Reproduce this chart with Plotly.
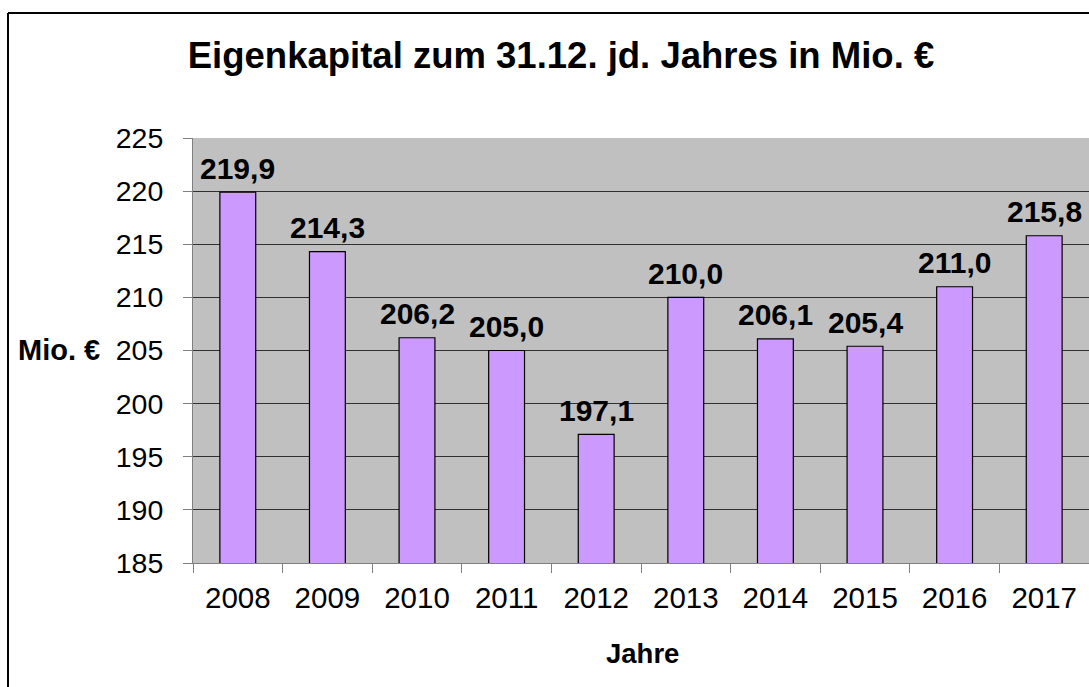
import plotly.graph_objects as go

years = ["2008", "2009", "2010", "2011", "2012", "2013", "2014", "2015", "2016", "2017"]
equity = [219.9, 214.3, 206.2, 205.0, 197.1, 210.0, 206.1, 205.4, 211.0, 215.8]
y_ticks = [185, 190, 195, 200, 205, 210, 215, 220, 225]

W, H = 1089, 687
L, R, T, B = 193, 0, 138, 124
pw, ph = W - L - R, H - T - B

FONT = "Liberation Sans, Arial, sans-serif"
labels = [f"{v:.1f}".replace(".", ",") for v in equity]

fig = go.Figure()
fig.add_trace(go.Bar(
    x=years, y=equity, width=0.4,
    marker=dict(color="#CC99FF", line=dict(color="black", width=1.2)),
    hoverinfo="skip",
))

# value labels above bars (category index position on the categorical x axis)
for i, (v, lab) in enumerate(zip(equity, labels)):
    fig.add_annotation(
        x=i, y=v, xref="x", yref="y", text=f"<b>{lab}</b>",
        showarrow=False, yanchor="middle", yshift=24,
        font=dict(family=FONT, size=30, color="black"),
    )

fig.update_layout(
    width=W, height=H,
    margin=dict(l=L, r=R, t=T, b=B),
    paper_bgcolor="white", plot_bgcolor="#C0C0C0",
    showlegend=False,
    title=dict(
        text="<b>Eigenkapital zum 31.12. jd. Jahres in Mio. €</b>",
        font=dict(family=FONT, size=36.5, color="black"),
        x=561 / W, xref="container", xanchor="center",
        y=1 - 55 / H, yanchor="middle",
    ),
)

fig.update_xaxes(
    type="category", range=[-0.5, 9.5],
    tickson="boundaries", ticks="outside", ticklen=9, tickcolor="#808080",
    showline=True, linecolor="#808080", linewidth=1,
    showgrid=False,
    tickfont=dict(family=FONT, size=29.5, color="black"),
    ticklabelstandoff=9,
)

fig.update_yaxes(
    range=[185, 225], tickvals=y_ticks,
    ticks="outside", ticklen=9, tickcolor="#808080",
    showline=True, linecolor="#808080", linewidth=1,
    showgrid=True, gridcolor="#303030", gridwidth=1,
    zeroline=False,
    tickfont=dict(family=FONT, size=28.5, color="black"),
    ticklabelstandoff=14,
)

fig.add_annotation(
    text="<b>Mio. €</b>", xref="paper", yref="paper",
    x=(16 - L) / pw, xanchor="left", y=(H - B - 350) / ph, yanchor="middle",
    showarrow=False, font=dict(family=FONT, size=29, color="black"),
)
fig.add_annotation(
    text="<b>Jahre</b>", xref="paper", yref="paper",
    x=(642 - L) / pw, xanchor="center", y=(H - B - 653) / ph, yanchor="middle",
    showarrow=False, font=dict(family=FONT, size=27.5, color="black"),
)

# outer chart border (left and top edges visible in the reference)
fig.add_shape(type="line", xref="paper", yref="paper",
              x0=(8 - L) / pw, x1=(8 - L) / pw, y0=(H - B - 13) / ph, y1=(H - B - H - 10) / ph,
              line=dict(color="black", width=2))
fig.add_shape(type="line", xref="paper", yref="paper",
              x0=(8 - L) / pw, x1=(W + 10 - L) / pw, y0=(H - B - 13) / ph, y1=(H - B - 13) / ph,
              line=dict(color="black", width=2))

fig.write_html("out.html", config={"displayModeBar": False},
               post_script="document.body.style.margin='0';document.body.style.overflow='hidden';")
